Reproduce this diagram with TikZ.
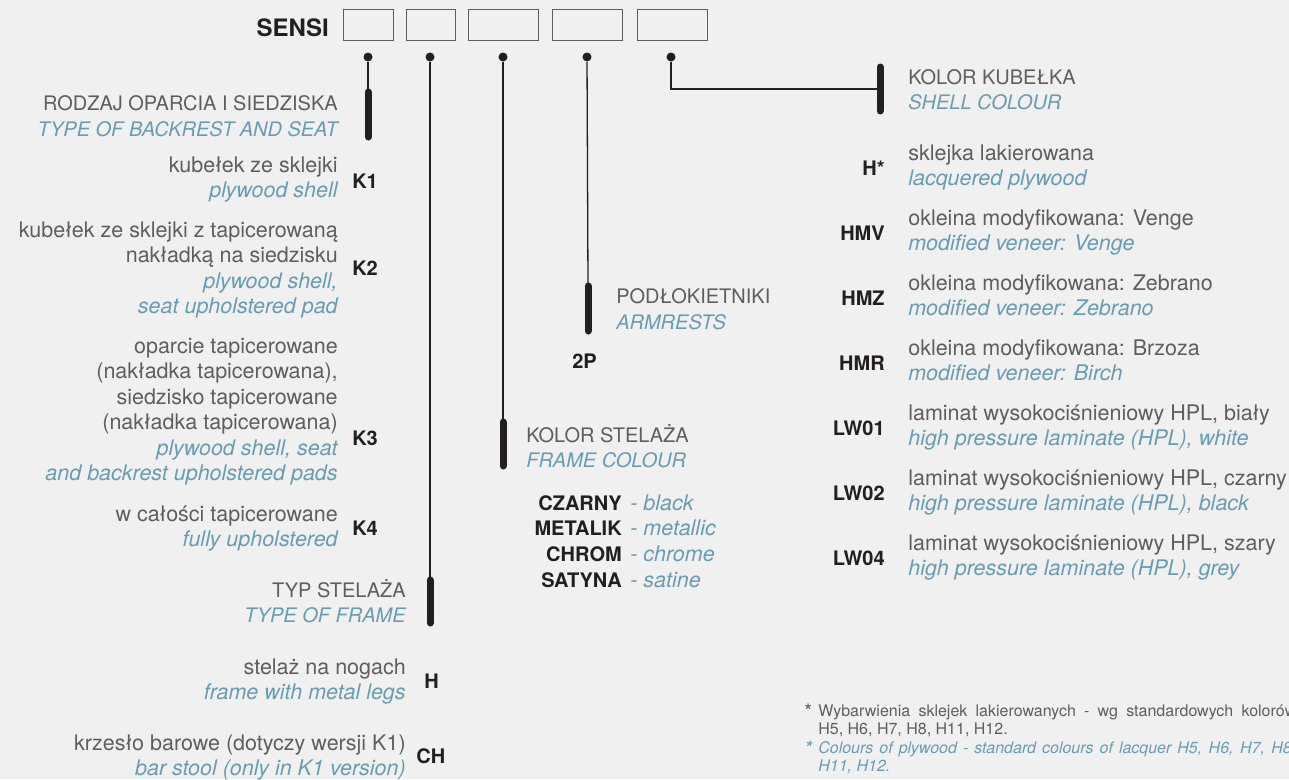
\documentclass[tikz,border=0pt]{standalone}
\usepackage{fontspec}
\setmainfont{TeX Gyre Heros}
\usetikzlibrary{positioning}
\usetikzlibrary{calc}
\definecolor{bgcol}{HTML}{F0F0F0}
\definecolor{plgrey}{HTML}{5E5E5E}
\definecolor{enblue}{HTML}{6A9BB3}
\definecolor{codeblk}{HTML}{231F20}
\newcommand{\txtpl}[1]{\textcolor{plgrey}{#1}}
\newcommand{\txten}[1]{\textcolor{enblue}{\itshape #1}}

\begin{document}
\begin{tikzpicture}[x=1pt,y=-1pt,semithick]
		\tikzstyle{dot}=[circle,fill=codeblk,inner sep=0pt,minimum size=9pt]
		\tikzstyle{field}=[draw=plgrey,line width=0.8pt,minimum height=31pt,inner sep=0pt]
		\tikzstyle{bar}=[line width=7pt,line cap=round,draw=codeblk]
		\tikzstyle{lead}=[line width=1.3pt,draw=codeblk]
		\tikzstyle{desc}=[inner sep=0pt,font=\fontsize{21.5}{25.5}\selectfont]
		\tikzstyle{head}=[inner sep=0pt,font=\fontsize{20}{25.5}\selectfont]
		\tikzstyle{code}=[inner sep=0pt,font=\fontsize{20}{24}\selectfont\bfseries,text=codeblk]
		\tikzstyle{note}=[inner sep=0pt,font=\fontsize{16}{18.5}\selectfont]
		
		\fill[bgcol] (0,0) rectangle (1289,779);
		\clip (0,0) rectangle (1289,779);
		
		% code fields
		\node[field,minimum width=50pt]   (f1) at (368,24.5)   {};
		\node[field,minimum width=49pt]   (f2) at (430.5,24.5) {};
		\node[field,minimum width=70pt]   (f3) at (503,24.5)   {};
		\node[field,minimum width=70pt]   (f4) at (587,24.5)   {};
		\node[field,minimum width=70pt]   (f5) at (672,24.5)   {};
		\node[code,font=\fontsize{24}{28}\selectfont\bfseries,anchor=base east] (sensi) at (329,36) {SENSI};
		
		\node[dot] (d1) at (368,57) {};
		\node[dot] (d2) at (430,57) {};
		\node[dot] (d3) at (503,57) {};
		\node[dot] (d4) at (587,57) {};
		\node[dot] (d5) at (671,57) {};
		
		\coordinate (b1t) at (368,92);  \coordinate (b1b) at (368,137);
		\coordinate (b2t) at (430,580); \coordinate (b2b) at (430,623);
		\coordinate (b3t) at (503,422); \coordinate (b3b) at (503,466);
		\coordinate (b4t) at (588,286); \coordinate (b4b) at (588,331);
		\coordinate (b5t) at (880,67);  \coordinate (b5b) at (880,111);
		
		\draw[lead] (d1) -- (b1t);
		\draw[lead] (d2) -- (b2t);
		\draw[lead] (d3) -- (b3t);
		\draw[lead] (d4) -- (b4t);
		\draw[lead] (d5) |- ($(b5t)!0.5!(b5b)$);
		\foreach \b in {1,...,5}
			\draw[bar] (b\b t) -- (b\b b);
		
		% backrest and seat (base = last line)
		\node[head,anchor=base east,align=right] (seat) at (338,136) {\txtpl{RODZAJ OPARCIA I SIEDZISKA}\\\txten{TYPE OF BACKREST AND SEAT}};
		\node[desc,anchor=base east,align=right] (k1txt) at (338,197.5) {\txtpl{kubełek ze sklejki}\\\txten{plywood shell}};
		\node[desc,anchor=base east,align=right] (k2txt) at (338,313.5) {\txtpl{kubełek ze sklejki z tapicerowaną}\\\txtpl{nakładką na siedzisku}\\\txten{plywood shell,}\\\txten{seat upholstered pad}};
		\node[desc,anchor=base east,align=right] (k3txt) at (338,480.5) {\txtpl{oparcie tapicerowane}\\\txtpl{(nakładka tapicerowana),}\\\txtpl{siedzisko tapicerowane}\\\txtpl{(nakładka tapicerowana)}\\\txten{plywood shell, seat}\\\txten{and backrest upholstered pads}};
		\node[desc,anchor=base east,align=right] (k4txt) at (338,546.5) {\txtpl{w całości tapicerowane}\\\txten{fully upholstered}};
		\node[code,anchor=base west] (k1) at (352,188) {K1};
		\node[code,anchor=base west] (k2) at (352,275) {K2};
		\node[code,anchor=base west] (k3) at (352,445) {K3};
		\node[code,anchor=base west] (k4) at (352,535) {K4};
		
		% frame type
		\node[head,anchor=base east,align=right] (frame) at (406,622.5) {\txtpl{TYP STELAŻA}\\\txten{TYPE OF FRAME}};
		\node[desc,anchor=base east,align=right] (htxt) at (406,699.5) {\txtpl{stelaż na nogach}\\\txten{frame with metal legs}};
		\node[desc,anchor=base east,align=right] (chtxt) at (406,775.5) {\txtpl{krzesło barowe (dotyczy wersji K1)}\\\txten{bar stool (only in K1 version)}};
		\node[code,anchor=base west] (h) at (424,688) {H};
		\node[code,anchor=base west] (ch) at (416,763) {CH};
		
		% frame colour
		\node[head,anchor=base west,align=left] (fcol) at (526,467.5) {\txtpl{KOLOR STELAŻA}\\\txten{FRAME COLOUR}};
		\foreach \c/\e [count=\i] in {CZARNY/black,METALIK/metallic,CHROM/chrome,SATYNA/satine}{
			\node[code,anchor=base east] (col\i) at (622,{510+25.7*(\i-1)}) {\c};
			\node[desc,anchor=base west] (cole\i) at (630,{510+25.7*(\i-1)}) {\txten{- \e}};
		}
		
		% armrests
		\node[head,anchor=base west,align=left] (arm) at (616,329) {\txtpl{PODŁOKIETNIKI}\\\txten{ARMRESTS}};
		\node[code,anchor=base west] (p2) at (572,368) {2P};
		
		% shell colour
		\node[head,anchor=base west,align=left] (shell) at (908,109.5) {\txtpl{KOLOR KUBEŁKA}\\\txten{SHELL COLOUR}};
		\foreach \c/\p/\e [count=\i] in {H*/sklejka lakierowana/lacquered plywood,
			HMV/okleina modyfikowana: Venge/modified veneer: Venge,
			HMZ/okleina modyfikowana: Zebrano/modified veneer: Zebrano,
			HMR/okleina modyfikowana: Brzoza/modified veneer: Birch,
			LW01/{laminat wysokociśnieniowy HPL, biały}/{high pressure laminate (HPL), white},
			LW02/{laminat wysokociśnieniowy HPL, czarny}/{high pressure laminate (HPL), black},
			LW04/{laminat wysokociśnieniowy HPL, szary}/{high pressure laminate (HPL), grey}}{
			\node[desc,anchor=base west,align=left] (sc\i) at (908,{185.5+65*(\i-1)}) {\txtpl{\p}\\\txten{\e}};
			\node[code,anchor=base east] (scc\i) at (885,{175+65*(\i-1)}) {\c};
		}
		
		% footnote
		\node[note,font=\fontsize{20}{20}\selectfont,anchor=base west] (st1) at (804,718) {\txtpl{*}};
		\node[note,font=\fontsize{20}{20}\selectfont,anchor=base west] (st2) at (804,755) {\txten{*}};
		\node[note,anchor=base west,align=left] (fnpl) at (818,734.5) {\txtpl{\makebox[478pt][s]{Wybarwienia sklejek lakierowanych - wg standardowych kolorów}}\\\txtpl{H5, H6, H7, H8, H11, H12.}};
		\node[note,anchor=base west,align=left] (fnen) at (818,771.5) {\txten{\makebox[478pt][s]{Colours of plywood - standard colours of lacquer H5, H6, H7, H8,}}\\\txten{H11, H12.}};
\end{tikzpicture}
\end{document}
